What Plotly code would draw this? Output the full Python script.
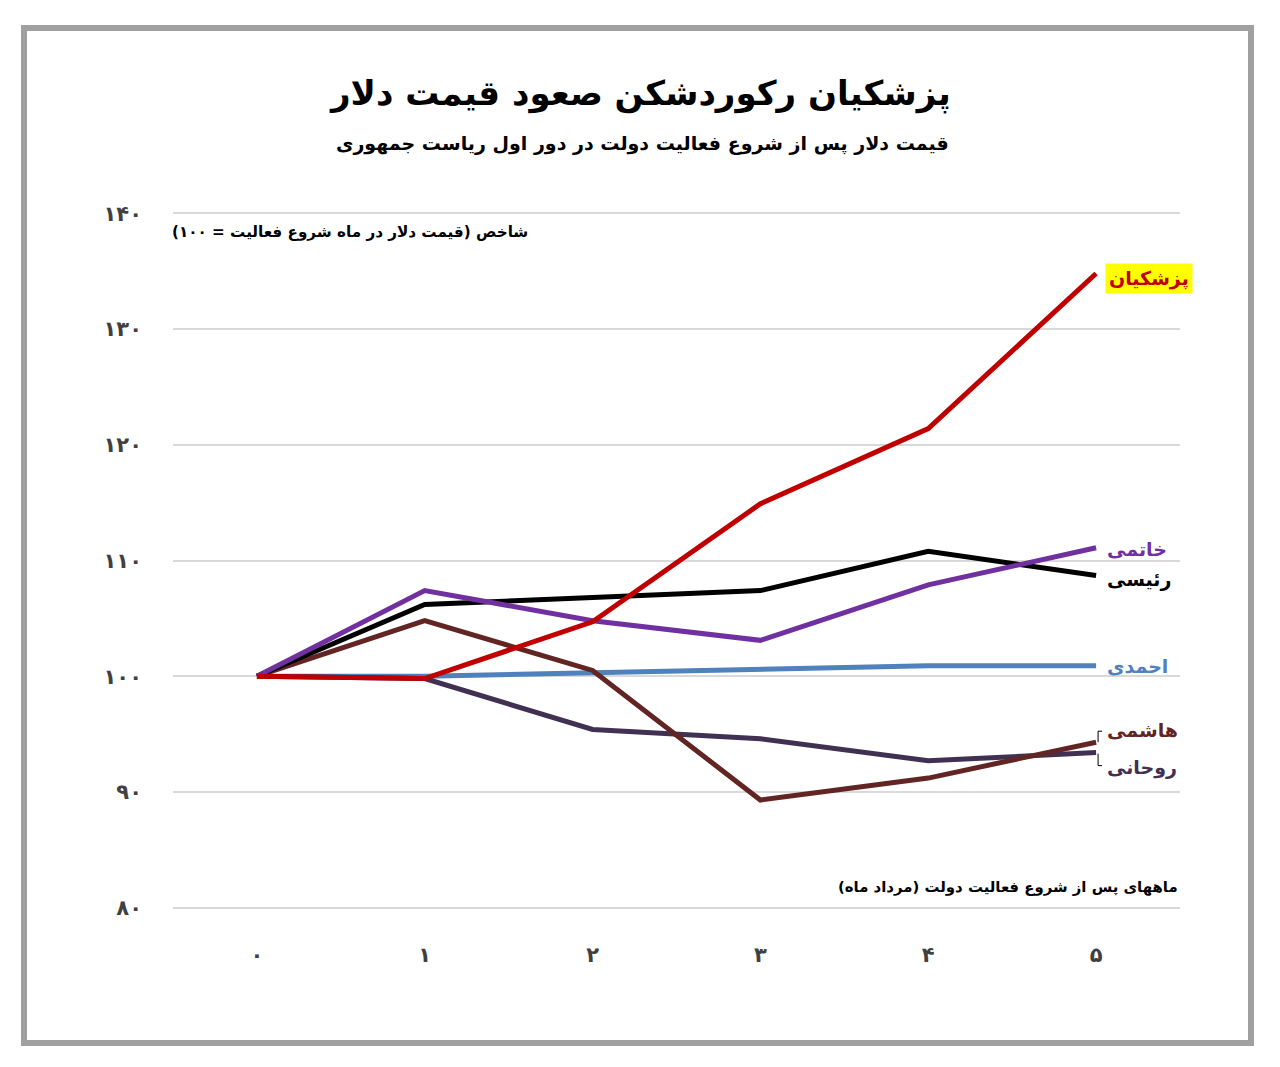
import plotly.graph_objects as go

months = [0, 1, 2, 3, 4, 5]
month_labels = ["۰", "۱", "۲", "۳", "۴", "۵"]
y_ticks = [80, 90, 100, 110, 120, 130, 140]
y_tick_labels = ["۸۰", "۹۰", "۱۰۰", "۱۱۰", "۱۲۰", "۱۳۰", "۱۴۰"]

pezeshkian = [100, 99.8, 104.7, 114.9, 121.4, 134.8]
khatami = [100, 107.4, 104.8, 103.1, 107.9, 111.1]
raisi = [100, 106.2, 106.8, 107.4, 110.8, 108.7]
ahmadi = [100, 100.0, 100.3, 100.6, 100.9, 100.9]
hashemi = [100, 104.8, 100.5, 89.3, 91.2, 94.3]
rouhani = [100, 99.8, 95.4, 94.6, 92.7, 93.4]

names = ["احمدی", "روحانی", "هاشمی", "رئیسی", "خاتمی", "پزشکیان"]
series = [ahmadi, rouhani, hashemi, raisi, khatami, pezeshkian]
colors = ["#4f81bd", "#403152", "#632523", "#000000", "#7030a0", "#c00000"]
label_shift = [0, -15, 12, -4, -1, -5]

title = "پزشکیان رکوردشکن صعود قیمت دلار"
subtitle = "قیمت دلار پس از شروع فعالیت دولت در دور اول ریاست جمهوری"
y_note = "شاخص (قیمت دلار در ماه شروع فعالیت = ۱۰۰)"
x_note = "ماههای پس از شروع فعالیت دولت (مرداد ماه)"

FONT = "DejaVu Sans"

fig = go.Figure()
for name, vals, col in zip(names, series, colors):
    fig.add_trace(go.Scatter(x=months, y=vals, mode="lines", name=name,
                             line=dict(color=col, width=5), showlegend=False))

annotations = []
for name, vals, col, sh in zip(names, series, colors, label_shift):
    ann = dict(x=months[-1], y=vals[-1], xref="x", yref="y", text="<b>%s</b>" % name,
               showarrow=False, xanchor="left", yanchor="middle", xshift=9, yshift=sh,
               font=dict(family=FONT, size=19, color=col))
    if name == "پزشکیان":
        ann["bgcolor"] = "#ffff00"
        ann["borderpad"] = 3
    annotations.append(ann)

annotations += [
    dict(x=0.5, y=1.0, xref="paper", yref="paper", yshift=118, text="<b>%s</b>" % title,
         showarrow=False, xanchor="center", yanchor="middle", xshift=-37,
         font=dict(family=FONT, size=34, color="#000000")),
    dict(x=0.5, y=1.0, xref="paper", yref="paper", yshift=68, text="<b>%s</b>" % subtitle,
         showarrow=False, xanchor="center", yanchor="middle", xshift=-34,
         font=dict(family=FONT, size=19, color="#000000")),
    dict(x=0.0, y=1.0, xref="paper", yref="paper", yshift=-21, text="<b>%s</b>" % y_note,
         showarrow=False, xanchor="left", yanchor="middle", xshift=-3,
         font=dict(family=FONT, size=15.2, color="#000000")),
    dict(x=1.0, y=0.0, xref="paper", yref="paper", yshift=23, text="<b>%s</b>" % x_note,
         showarrow=False, xanchor="right", yanchor="middle", xshift=0,
         font=dict(family=FONT, size=14.9, color="#000000")),
]

# small brackets joining the two close labels
bracket_top = "M 6,11 L 2,11 L 2,0"
bracket_bot = "M 2,-1 L 2,-13 L 6,-13"
PT, PB = 211, 910
shapes = [
    dict(type="rect", xref="paper", yref="paper",
         x0=(24 - 173) / 1007, x1=(1251 - 173) / 1007,
         y0=(PB - 1043) / (PB - PT), y1=(PB - 28) / (PB - PT),
         line=dict(color="#a0a0a0", width=6), fillcolor="rgba(0,0,0,0)", layer="below"),
    dict(type="path", xref="x", yref="y", xsizemode="pixel", ysizemode="pixel",
         xanchor=months[-1], yanchor=hashemi[-1], path=bracket_top,
         line=dict(color="#000000", width=1)),
    dict(type="path", xref="x", yref="y", xsizemode="pixel", ysizemode="pixel",
         xanchor=months[-1], yanchor=rouhani[-1], path=bracket_bot,
         line=dict(color="#000000", width=1)),
]

fig.update_layout(
    width=1280, height=1067,
    margin=dict(l=173, r=100, t=PT, b=1067 - PB),
    paper_bgcolor="white", plot_bgcolor="white",
    annotations=annotations, shapes=shapes,
    xaxis=dict(range=[-0.5, 5.5], tickvals=months,
               ticktext=["<b>%s</b>" % t for t in month_labels],
               showgrid=False, zeroline=False, showline=False, ticks="",
               ticklabelstandoff=30,
               tickfont=dict(family=FONT, size=21, color="#404040")),
    yaxis=dict(range=[79.8, 140.2], tickvals=y_ticks,
               ticktext=["<b>%s</b>" % t for t in y_tick_labels],
               showgrid=True, gridcolor="#d9d9d9", gridwidth=1.5,
               zeroline=False, showline=False, ticks="",
               ticklabelstandoff=30,
               tickfont=dict(family=FONT, size=21, color="#404040")),
)

fig.write_html("out.html")
